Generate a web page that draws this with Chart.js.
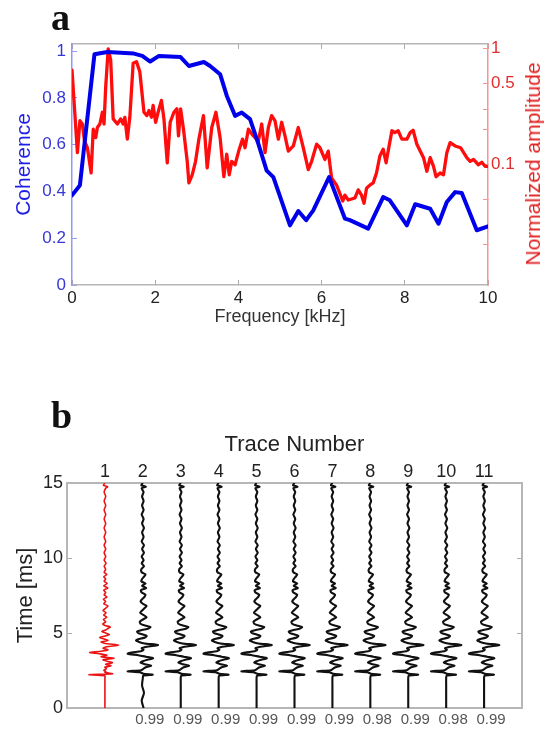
<!DOCTYPE html>
<html><head><meta charset="utf-8">
<script src="https://cdn.jsdelivr.net/npm/chart.js@4.4.0/dist/chart.umd.min.js"></script>
<style>
html,body{margin:0;padding:0;background:#fff;}
#wrap{position:relative;width:548px;height:729px;overflow:hidden;background:#fff;}
.pl{position:absolute;font-family:"Liberation Serif","DejaVu Serif",serif;font-weight:bold;font-size:38px;line-height:38px;color:#111;}
#ca{position:absolute;left:0;top:0;}
#cb{position:absolute;left:0;top:420px;}
#namp{position:absolute;left:533px;top:164px;transform:translate(-50%,-50%) rotate(-90deg);white-space:nowrap;font-family:"Liberation Sans",Arial,sans-serif;font-size:21px;color:rgb(225,30,30);}
</style></head><body>
<div id="wrap">
<canvas id="ca" width="548" height="340"></canvas>
<canvas id="cb" width="548" height="309"></canvas>
<div class="pl" style="left:51px;top:-2px">a</div>
<div class="pl" style="left:51px;top:396px">b</div>
<div id="namp">Normalized amplitude</div>
</div>
<script>
// ---------- Panel a data ----------
const freqTicks = [0, 2, 4, 6, 8, 10];
const cohTicks = [0, 0.2, 0.4, 0.6, 0.8, 1];
const ampTicks = [0.1, 0.5, 1];
const ampTickMarks = [0.02, 0.05, 0.1, 0.2, 0.3, 0.5, 1];

const freqCoh = [0,0.19,0.54,0.85,1.49,1.69,1.88,2.09,2.61,2.81,
  3.17,3.32,3.56,3.72,3.92,4.08,4.28,4.48,4.68,4.84,
  5.24,5.44,5.63,5.80,6.18,6.56,6.68,7.12,7.48,7.64,
  8.05,8.25,8.61,8.81,9.01,9.21,9.37,9.73,10.0];
const coherence = [0.383,0.426,0.986,0.996,0.989,0.979,0.955,0.979,0.974,0.936,
  0.953,0.936,0.901,0.809,0.723,0.737,0.709,0.603,0.489,0.461,
  0.255,0.316,0.277,0.319,0.461,0.284,0.277,0.241,0.376,0.362,
  0.255,0.345,0.326,0.262,0.355,0.397,0.393,0.234,0.251];

const freqAmp = [0.00,0.13,0.19,0.25,0.30,0.37,0.46,0.51,0.57,0.61,
  0.67,0.73,0.77,0.81,0.87,0.93,0.99,1.09,1.17,1.23,
  1.27,1.33,1.39,1.47,1.55,1.63,1.73,1.80,1.85,1.91,
  1.95,2.01,2.07,2.15,2.21,2.29,2.36,2.45,2.52,2.56,
  2.61,2.68,2.77,2.81,2.89,2.97,3.05,3.16,3.25,3.36,
  3.46,3.56,3.65,3.72,3.78,3.84,3.92,4.02,4.10,4.16,
  4.24,4.36,4.48,4.56,4.64,4.72,4.80,4.88,4.96,5.04,
  5.12,5.20,5.32,5.44,5.56,5.68,5.76,5.88,5.96,6.08,
  6.16,6.24,6.36,6.51,6.56,6.64,6.80,6.88,6.96,7.02,
  7.08,7.16,7.24,7.32,7.40,7.48,7.55,7.60,7.69,7.76,
  7.84,7.93,8.05,8.13,8.20,8.29,8.37,8.45,8.53,8.61,
  8.69,8.75,8.85,8.93,9.01,9.09,9.21,9.34,9.49,9.57,
  9.65,9.77,9.85,9.93,10.00];
const amplitude = [0.654,0.126,0.238,0.223,0.159,0.139,0.084,0.201,0.170,0.208,
  0.223,0.282,0.223,0.467,1.000,0.800,0.247,0.223,0.247,0.223,
  0.255,0.165,0.255,0.748,0.774,0.632,0.282,0.264,0.292,0.255,
  0.323,0.231,0.282,0.357,0.247,0.103,0.231,0.282,0.302,0.176,
  0.302,0.201,0.106,0.069,0.081,0.106,0.165,0.264,0.093,0.208,
  0.282,0.170,0.078,0.122,0.081,0.106,0.099,0.135,0.165,0.139,
  0.201,0.176,0.159,0.223,0.126,0.208,0.264,0.238,0.165,0.231,
  0.176,0.130,0.144,0.208,0.139,0.090,0.106,0.149,0.139,0.110,
  0.130,0.076,0.066,0.048,0.054,0.049,0.051,0.060,0.054,0.046,
  0.062,0.066,0.069,0.084,0.118,0.135,0.103,0.130,0.195,0.188,
  0.195,0.165,0.165,0.188,0.197,0.149,0.130,0.114,0.087,0.114,
  0.096,0.078,0.084,0.081,0.126,0.154,0.144,0.139,0.114,0.106,
  0.110,0.099,0.104,0.096,0.096];

// ---------- Panel b data ----------
const traceNums = [1,2,3,4,5,6,7,8,9,10,11];
const corrTraces = [2,3,4,5,6,7,8,9,10,11];
const corrLabels = ['0.99','0.99','0.99','0.99','0.99','0.99','0.98','0.99','0.98','0.99'];
const timeTicks = [0, 5, 10, 15];

const timeMs = [0,0.5,1.0,1.5,2.0,2.15,2.22,2.28,2.38,2.45,
  2.52,2.62,2.72,2.82,2.92,3.02,3.12,3.22,3.32,3.42,
  3.52,3.62,3.70,3.78,3.88,3.98,4.08,4.20,4.30,4.40,
  4.50,4.60,4.70,4.80,4.90,5.00,5.10,5.20,5.30,5.40,
  5.50,5.60,5.75,5.90,6.05,6.20,6.35,6.50,6.65,6.80,
  6.95,7.10,7.25,7.40,7.55,7.70,7.85,8.00,8.15,8.30,
  8.45,8.60,8.75,8.90,9.05,9.25,9.45,9.65,9.85,10.1,
  10.35,10.6,10.85,11.1,11.4,11.7,12.0,12.3,12.6,12.9,
  13.2,13.5,13.8,14.1,14.4,14.65,14.75,14.85,15.0];
// reference trace (trace 1, red), amplitude in trace-spacing units
const refTrace = [0,0,0,0,0,0,-0.42,0.20,0.00,0.02,
  -0.03,0.04,0.00,0.16,0.02,0.20,0.05,-0.05,0.24,-0.10,
  0.05,-0.15,-0.40,-0.10,0.08,-0.05,0.05,0.36,0.02,-0.10,
  0.08,-0.02,-0.14,0.00,0.12,0.02,-0.08,0.02,0.08,0.14,
  0.00,-0.06,0.02,-0.04,0.05,-0.03,0.03,-0.05,0.02,0.08,
  -0.03,0.02,-0.04,0.05,-0.02,0.02,-0.03,0.08,-0.03,0.06,
  -0.02,0.02,-0.03,0.05,-0.02,0.02,-0.02,0.03,-0.02,0.02,
  -0.02,0.02,-0.02,0.02,-0.02,0.02,-0.02,0.02,-0.02,0.02,
  -0.02,0.02,-0.02,0.02,-0.02,0.02,0.07,-0.04,0.00];
// recorded traces 2-11 (black)
const recTrace = [0,0,0,0,0,0.01,0.26,0.02,-0.08,-0.40,
  -0.05,0.02,0.08,0.22,0.06,-0.06,0.00,0.12,0.27,0.08,
  -0.12,-0.40,-0.30,-0.05,0.02,-0.03,0.10,0.40,0.05,-0.10,
  -0.18,-0.10,0.06,0.10,0.00,-0.12,-0.15,-0.02,0.15,0.20,
  0.06,-0.05,-0.08,0.00,0.10,0.02,-0.07,-0.02,0.04,0.10,
  0.00,-0.06,-0.02,0.04,0.07,-0.03,-0.05,0.09,-0.02,0.07,
  -0.04,-0.02,0.03,0.07,-0.03,-0.04,0.03,-0.03,0.02,-0.03,
  0.03,-0.02,0.03,-0.03,0.02,-0.02,0.03,-0.02,0.02,-0.03,
  0.02,-0.02,0.02,-0.02,0.02,-0.03,0.08,-0.04,0.00];
// trace 2 has small wiggles before the first arrival
const trace2Early = [0.02,-0.03,0.03,-0.02,0.00];

const FONT = '"Liberation Sans", Arial, sans-serif';
const GREY = 'rgb(182,182,182)';
const noGrid = {display:false, drawTicks:false};
const inTicks = c => ({display:true, drawOnChartArea:false, drawTicks:true, tickLength:-5, color:c, lineWidth:1});

// ---------- Panel a chart ----------
new Chart(document.getElementById('ca'), {
  type: 'line',
  data: { datasets: [
    { label:'Coherence', data: freqCoh.map((f,i)=>({x:f, y:coherence[i]})),
      xAxisID:'x', yAxisID:'y', borderColor:'rgb(0,0,235)', borderWidth:4,
      pointRadius:0, tension:0, borderJoinStyle:'round', borderCapStyle:'round' },
    { label:'Normalized amplitude', data: freqAmp.map((f,i)=>({x:f, y:amplitude[i]})),
      xAxisID:'x', yAxisID:'y2', borderColor:'rgb(255,12,12)', borderWidth:3.3,
      pointRadius:0, tension:0, borderJoinStyle:'round', borderCapStyle:'round' }
  ]},
  options: {
    responsive:false, animation:false, devicePixelRatio:1,
    layout:{padding:{top:44, left:0, right:0, bottom:0}},
    plugins:{legend:{display:false}, tooltip:{enabled:false}},
    scales:{
      x:{type:'linear', position:'bottom', min:0, max:10,
        afterBuildTicks:s=>{s.ticks=freqTicks.map(v=>({value:v}));},
        ticks:{font:{family:FONT,size:17}, color:'#222', padding:8, maxRotation:0, autoSkip:false, callback:v=>String(v)},
        grid:inTicks('rgb(170,170,170)'), border:{display:true, color:GREY, width:1.5},
        title:{display:true, text:'Frequency [kHz]', font:{family:FONT,size:18}, color:'#333', padding:{top:0,bottom:12}},
        afterFit:s=>{s.height=55;}},
      xt:{type:'linear', position:'top', min:0, max:10,
        afterBuildTicks:s=>{s.ticks=freqTicks.map(v=>({value:v}));},
        ticks:{display:false}, grid:inTicks('rgb(170,170,170)'), border:{display:true, color:GREY, width:1.5},
        afterFit:s=>{s.height=0;}},
      y:{type:'linear', position:'left', min:0, max:1.03,
        afterBuildTicks:s=>{s.ticks=cohTicks.map(v=>({value:v}));},
        ticks:{font:{family:FONT,size:17}, color:'rgb(55,55,215)', padding:11, autoSkip:false, callback:v=>String(v)},
        grid:inTicks('rgb(150,150,245)'), border:{display:true, color:'rgb(150,150,245)', width:1.5},
        title:{display:true, text:'Coherence', font:{family:FONT,size:21}, color:'rgb(30,30,230)', padding:{top:12,bottom:0}},
        afterFit:s=>{s.width=72;}},
      y2:{type:'logarithmic', position:'right', min:0.009, max:1.1,
        afterBuildTicks:s=>{s.ticks=ampTickMarks.map(v=>({value:v}));},
        ticks:{font:{family:FONT,size:17}, color:'rgb(225,45,45)', padding:8, autoSkip:false,
          callback:v=>ampTicks.includes(v) ? String(v) : ''},
        grid:inTicks('rgb(245,150,150)'), border:{display:true, color:'rgb(245,150,150)', width:1.5},
        afterFit:s=>{s.width=60;}}
    }
  }
});

// ---------- Panel b chart ----------
const traceSets = traceNums.map(n => {
  const data = timeMs.map((t,i) => {
    let a;
    if (n === 1) a = refTrace[i];
    else if (n === 2 && i < trace2Early.length) a = trace2Early[i];
    else a = recTrace[i];
    return {x: n + a, y: t};
  });
  return { label:'Trace '+n, data, xAxisID:'xb', yAxisID:'y',
    borderColor: n===1 ? 'rgb(235,20,20)' : '#111',
    borderWidth: n===1 ? 1.6 : 2.1, pointRadius:0, tension:0.25,
    borderJoinStyle:'round' };
});

new Chart(document.getElementById('cb'), {
  type:'line',
  data:{datasets:traceSets},
  options:{
    responsive:false, animation:false, devicePixelRatio:1,
    layout:{padding:0},
    plugins:{legend:{display:false}, tooltip:{enabled:false}},
    scales:{
      xt:{type:'linear', position:'top', min:0, max:12,
        afterBuildTicks:s=>{s.ticks=traceNums.map(v=>({value:v}));},
        ticks:{font:{family:FONT,size:18}, color:'#222', padding:0, maxRotation:0, autoSkip:false, callback:(v,i)=>String(traceNums[i])},
        grid:noGrid, border:{display:true, color:GREY, width:2},
        title:{display:true, text:'Trace Number', font:{family:FONT,size:22}, color:'#222', padding:{top:12,bottom:0}},
        afterFit:s=>{s.height=63;}},
      xb:{type:'linear', position:'bottom', min:0, max:12,
        afterBuildTicks:s=>{s.ticks=corrTraces.map(v=>({value:v}));},
        ticks:{font:{family:FONT,size:15}, color:'#555', padding:3, labelOffset:7, maxRotation:0, autoSkip:false, callback:(v,i)=>corrLabels[i]},
        grid:noGrid, border:{display:true, color:GREY, width:2},
        afterFit:s=>{s.height=21;}},
      y:{type:'linear', position:'left', min:0, max:15,
        afterBuildTicks:s=>{s.ticks=timeTicks.map(v=>({value:v}));},
        ticks:{font:{family:FONT,size:18}, color:'#222', padding:9, autoSkip:false, callback:v=>String(v)},
        grid:inTicks('rgb(175,175,175)'), border:{display:true, color:GREY, width:2},
        title:{display:true, text:'Time [ms]', font:{family:FONT,size:22}, color:'#222', padding:{top:13,bottom:0}},
        afterFit:s=>{s.width=67;}},
      yr:{type:'linear', position:'right', min:0, max:15,
        afterBuildTicks:s=>{s.ticks=timeTicks.map(v=>({value:v}));},
        ticks:{display:false}, grid:inTicks('rgb(175,175,175)'), border:{display:true, color:GREY, width:2},
        afterFit:s=>{s.width=26;}}
    }
  }
});
</script>
</body></html>
